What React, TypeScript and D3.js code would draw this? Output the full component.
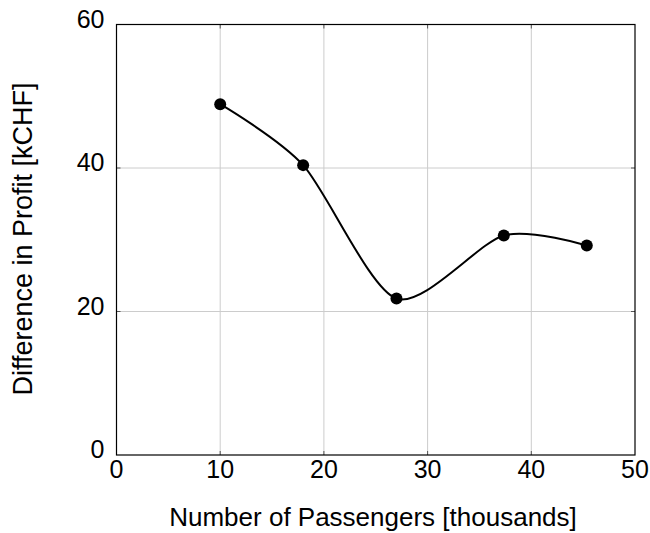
import React from "react";
import * as d3 from "d3";

const passengers = [10, 18, 27, 37.35, 45.35];
const profit = [48.9, 40.4, 21.8, 30.6, 29.2];
const xTicks = [0, 10, 20, 30, 40, 50];
const yTicks = [0, 20, 40, 60];

const W = 650, H = 533;
const L = 116.5, R = 635, T = 24.5, B = 455;
const FONT = "'Liberation Sans', Arial, sans-serif";

export default function App() {
  const x = d3.scaleLinear().domain([0, 50]).range([L, R]);
  const y = d3.scaleLinear().domain([0, 60]).range([B, T]);
  const pts: [number, number][] = passengers.map((p, i) => [x(p), y(profit[i])]);
  const line = d3.line().curve(d3.curveCardinal.tension(0.2))(pts) || "";
  return (
    <svg width={W} height={H} style={{ position: "absolute", left: 0, top: 0 }}>
      <rect width={W} height={H} fill="#fff" />
      {xTicks.slice(1, -1).map((t) => (
        <line key={"gx" + t} x1={x(t)} x2={x(t)} y1={T} y2={B} stroke="#cccccc" strokeWidth={1} />
      ))}
      {yTicks.slice(1, -1).map((t) => (
        <line key={"gy" + t} x1={L} x2={R} y1={y(t)} y2={y(t)} stroke="#cccccc" strokeWidth={1} />
      ))}
      {xTicks.slice(1, -1).map((t) => (
        <g key={"tx" + t}>
          <line x1={x(t)} x2={x(t)} y1={B} y2={B - 4} stroke="#555" strokeWidth={1} />
          <line x1={x(t)} x2={x(t)} y1={T} y2={T + 4} stroke="#555" strokeWidth={1} />
        </g>
      ))}
      {yTicks.slice(1, -1).map((t) => (
        <g key={"ty" + t}>
          <line x1={L} x2={L + 4} y1={y(t)} y2={y(t)} stroke="#555" strokeWidth={1} />
          <line x1={R} x2={R - 4} y1={y(t)} y2={y(t)} stroke="#555" strokeWidth={1} />
        </g>
      ))}
      <rect x={L} y={T} width={R - L} height={B - T} fill="none" stroke="#000" strokeWidth={1.2} />
      <path d={line} fill="none" stroke="#000" strokeWidth={2} />
      {pts.map((p, i) => (
        <circle key={i} cx={p[0]} cy={p[1]} r={6} fill="#000" />
      ))}
      {xTicks.map((t) => (
        <text key={"lx" + t} x={x(t)} y={B + 23} textAnchor="middle" fontFamily={FONT} fontSize={25} fill="#000">
          {t}
        </text>
      ))}
      {yTicks.map((t) => (
        <text key={"ly" + t} x={L - 12} y={y(t) + 3} textAnchor="end" fontFamily={FONT} fontSize={25} fill="#000">
          {t}
        </text>
      ))}
      <text x={373} y={526} textAnchor="middle" fontFamily={FONT} fontSize={26} fill="#000">
        Number of Passengers [thousands]
      </text>
      <text transform={`translate(32, 239) rotate(-90)`} textAnchor="middle" fontFamily={FONT} fontSize={27} fill="#000">
        Difference in Profit [kCHF]
      </text>
    </svg>
  );
}
